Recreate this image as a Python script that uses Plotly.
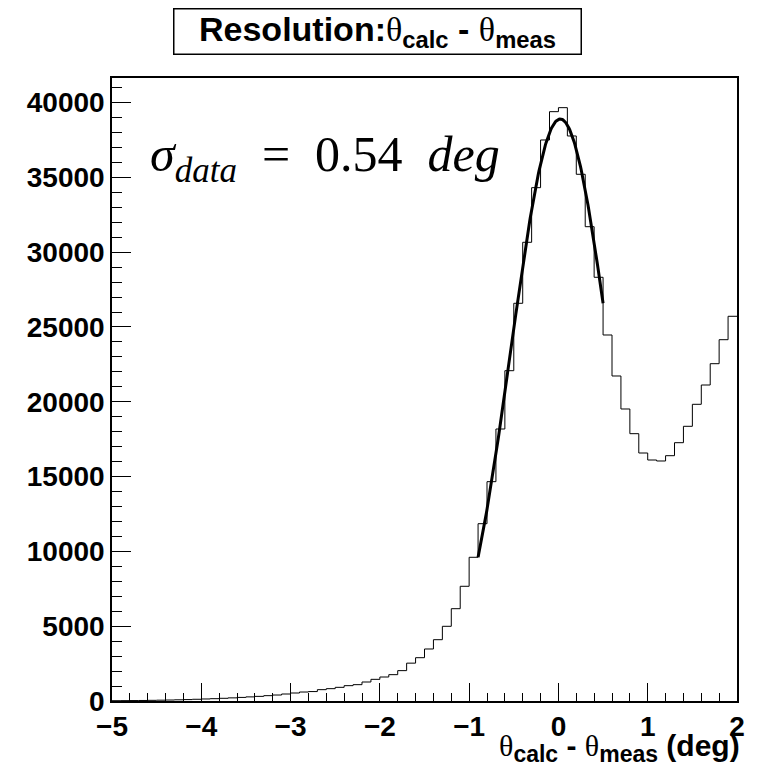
import math
import plotly.graph_objects as go

# Bin edges: -5 .. 2 in steps of 0.1 (70 bins)
bin_lo = [round(-5 + 0.1 * i, 1) for i in range(70)]
x_max_edge = 2.0
counts = [
    20, 25, 30, 35, 45, 55, 65, 80, 95, 115,
    135, 155, 180, 210, 240, 275, 310, 356, 400, 468,
    535, 600, 630, 757, 825, 914, 1025, 1092, 1270, 1448,
    1604, 1760, 2030, 2530, 2894, 3476, 4097, 4993, 6169, 7667,
    9605, 11851, 14660, 18180, 22077, 26582, 30659, 34310, 37497, 39390,
    39657, 37765, 35204, 31702, 28320, 24463, 21723, 19517, 17867, 16576,
    16108, 16042, 16396, 17265, 18360, 19831, 21121, 22545, 24149, 25713,
]

# Gaussian fit parameters: amplitude, mean, sigma, and fit range
fit_amp = 38900
fit_mean = 0.02
fit_sigma = 0.55
fit_range = [-0.9, 0.5]

y_ticks = [0, 5000, 10000, 15000, 20000, 25000, 30000, 35000, 40000]
x_ticks = [-5, -4, -3, -2, -1, 0, 1, 2]

n_fit = 200
fit_x = [fit_range[0] + (fit_range[1] - fit_range[0]) * i / (n_fit - 1) for i in range(n_fit)]
fit_y = [fit_amp * math.exp(-((xv - fit_mean) ** 2) / (2 * fit_sigma ** 2)) for xv in fit_x]

hx = bin_lo + [x_max_edge]
hy = counts + [counts[-1]]

fig = go.Figure()
fig.add_trace(go.Scatter(x=hx, y=hy, mode="lines", line=dict(shape="hv", color="black", width=1),
                         hoverinfo="skip", showlegend=False))
fig.add_trace(go.Scatter(x=fit_x, y=fit_y, mode="lines", line=dict(color="black", width=3),
                         hoverinfo="skip", showlegend=False))

ymax = 1.05 * max(counts)
tickfont = dict(family="Liberation Sans", size=28, color="black", weight="bold")

fig.update_layout(
    width=761, height=768,
    margin=dict(l=112, r=24, t=78, b=67),
    paper_bgcolor="white", plot_bgcolor="white",
    showlegend=False,
    xaxis=dict(range=[-5, 2], tickvals=x_ticks, ticks="inside", ticklen=18, tickwidth=1,
               tickcolor="black", showline=True, linecolor="black", linewidth=1.5, mirror=True,
               showgrid=False, zeroline=False, tickfont=tickfont, ticklabelstandoff=0,
               minor=dict(ticks="inside", ticklen=8, dtick=0.2, tickcolor="black", tickwidth=1, showgrid=False)),
    yaxis=dict(range=[0, ymax], tickvals=y_ticks, tickformat="d", ticks="inside", ticklen=19, tickwidth=1,
               tickcolor="black", showline=True, linecolor="black", linewidth=1.5, mirror=True,
               showgrid=False, zeroline=False, tickfont=tickfont, ticklabelstandoff=0,
               minor=dict(ticks="inside", ticklen=10, dtick=1000, tickcolor="black", tickwidth=1, showgrid=False)),
)

theta = '<span style="font-family:Liberation Serif;font-weight:normal">θ</span>'


def sub(s, px):
    return '<sub><span style="font-size:%dpx"><b>%s</b></span></sub>' % (px, s)


# Title box
fig.add_annotation(
    xref="paper", yref="paper", x=(377 - 112) / 625, y=1 + (78 - 31) / 623,
    xanchor="center", yanchor="middle", showarrow=False,
    text="<b>Resolution:</b>" + theta + "<sub><b>calc</b></sub><b> - </b>" + theta + "<sub><b>meas</b></sub>",
    font=dict(family="Liberation Sans", size=34, color="black"),
    bordercolor="black", borderwidth=1.5, bgcolor="white", width=404, height=42,
)

# X axis title
fig.add_annotation(
    xref="paper", yref="paper", x=1 + 5 / 625, y=-(748 - 701) / 623,
    xanchor="right", yanchor="middle", showarrow=False,
    text=theta + sub("calc", 23) + "<b> - </b>" + theta + sub("meas", 23) + "<b> (deg)</b>",
    font=dict(family="Liberation Sans", size=30, color="black"),
)

# Sigma annotation
fig.add_annotation(
    xref="paper", yref="paper", x=(148 - 112) / 625, y=(701 - 158) / 623,
    xanchor="left", yanchor="middle", showarrow=False,
    text="<i>σ</i><sub><i>data</i></sub>  =  0.54  <i>deg</i>",
    font=dict(family="Liberation Serif", size=50, color="black"),
)

fig.write_html("out.html")
